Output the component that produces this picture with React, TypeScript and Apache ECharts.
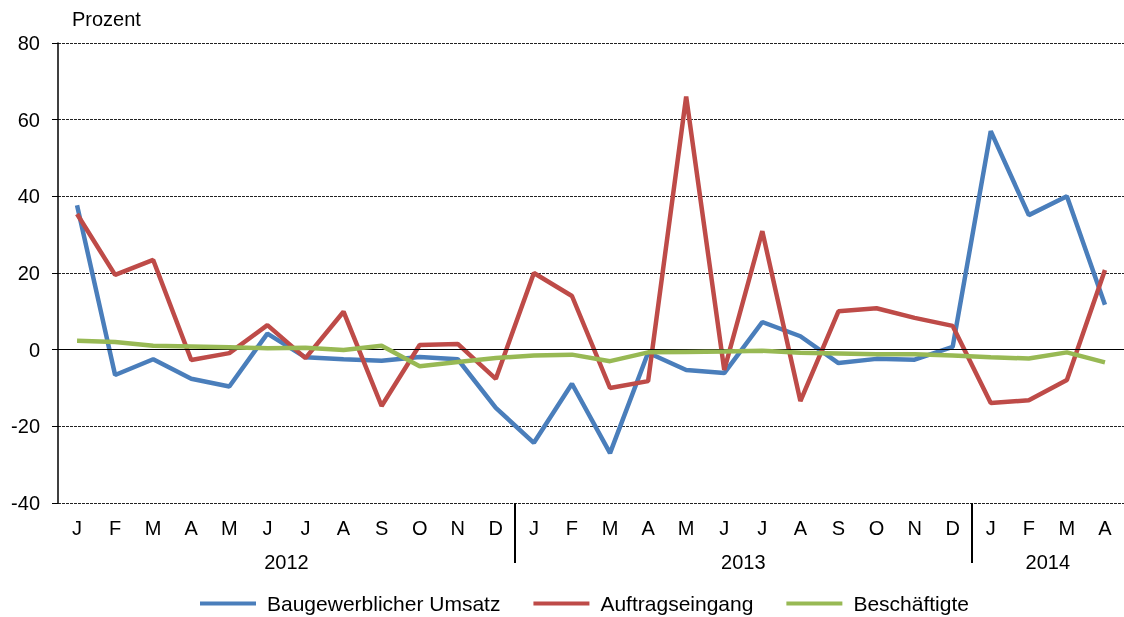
import React, { useEffect, useRef } from "react";
import * as echarts from "echarts";

const months = ["J","F","M","A","M","J","J","A","S","O","N","D","J","F","M","A","M","J","J","A","S","O","N","D","J","F","M","A"];
const years = [
  { label: "2012", from: 0, to: 11 },
  { label: "2013", from: 12, to: 23 },
  { label: "2014", from: 24, to: 27 },
];
const umsatz = [37.7, -6.6, -2.5, -7.6, -9.6, 4.2, -2.0, -2.5, -2.9, -1.9, -2.5, -15.2, -24.3, -8.9, -27.0, -0.8, -5.3, -6.1, 7.2, 3.5, -3.5, -2.4, -2.6, 0.7, 57.0, 35.1, 40.0, 11.7];
const auftrag = [35.4, 19.5, 23.4, -2.7, -0.9, 6.4, -2.2, 9.9, -14.7, 1.2, 1.5, -7.6, 20.0, 14.0, -10.0, -8.2, 66.0, -5.3, 30.9, -13.4, 10.0, 10.8, 8.3, 6.2, -13.9, -13.2, -7.9, 20.8];
const beschaeftigte = [2.3, 2.0, 1.0, 0.8, 0.6, 0.4, 0.5, -0.1, 1.0, -4.3, -3.2, -2.2, -1.5, -1.3, -3.0, -0.7, -0.6, -0.5, -0.3, -0.8, -1.0, -1.2, -1.2, -1.5, -2.0, -2.3, -0.7, -3.3];
const yTicks = { min: -40, max: 80, interval: 20 };
const seriesNames = ["Baugewerblicher Umsatz", "Auftragseingang", "Beschäftigte"];
const colors = ["#4a7ebb", "#be4b48", "#98b954"];

const FONT = "'Liberation Sans', Arial, sans-serif";
const FS = 20;

export default function App() {
  const ref = useRef<HTMLDivElement>(null);
  useEffect(() => {
    if (!ref.current) return;
    const chart = echarts.init(ref.current, null, { renderer: "svg" });
    const data = [umsatz, auftrag, beschaeftigte];
    const option: any = {
      animation: false,
      textStyle: { fontFamily: FONT },
      grid: { left: 58, top: 43, width: 1068, height: 460, containLabel: false },
      legend: {
        top: 593,
        left: 200,
        padding: 0,
        icon: "rect",
        itemWidth: 56,
        itemHeight: 4,
        itemGap: 33,
        textStyle: { fontFamily: FONT, fontSize: 21, color: "#000", padding: [0, 0, 0, 6] },
        data: seriesNames,
      },
      xAxis: {
        type: "category",
        data: months,
        boundaryGap: true,
        axisLine: { show: false, onZero: false },
        axisTick: { show: false },
        axisLabel: { interval: 0, margin: 15, fontSize: FS, color: "#000", fontFamily: FONT },
        splitLine: { show: false },
      },
      yAxis: {
        type: "value",
        min: yTicks.min,
        max: yTicks.max,
        interval: yTicks.interval,
        axisLine: { show: true, lineStyle: { color: "#000", width: 1.5 } },
        axisTick: { show: true, length: 6, lineStyle: { color: "#000" } },
        axisLabel: { margin: 18, fontSize: FS, color: "#000", fontFamily: FONT },
        splitLine: { show: true, lineStyle: { color: "#222", type: [3, 1], width: 1 } },
      },
      series: seriesNames.map((name, k) => ({
        name,
        type: "line",
        data: data[k],
        symbol: "none",
        lineStyle: { color: colors[k], width: 4.5 },
        itemStyle: { color: colors[k] },
        z: 3 + k,
        markLine:
          k === 0
            ? {
                silent: true,
                symbol: "none",
                label: { show: false },
                lineStyle: { color: "#000", type: "solid", width: 1 },
                data: [{ yAxis: 0 }],
              }
            : undefined,
      })),
    };
    chart.setOption(option);
    const px = (i: number) => chart.convertToPixel({ xAxisIndex: 0 }, i) as number;
    const bottomY = chart.convertToPixel({ yAxisIndex: 0 }, yTicks.min) as number;
    const graphics: any[] = years.map((y) => ({
      type: "text",
      x: (px(y.from) + px(y.to)) / 2,
      y: 562,
      style: { text: y.label, fontSize: FS, fontFamily: FONT, fill: "#000", align: "center", verticalAlign: "middle" },
    }));
    years.slice(1).forEach((y) => {
      const x = Math.round((px(y.from - 1) + px(y.from)) / 2);
      graphics.push({
        type: "line",
        shape: { x1: x, y1: bottomY, x2: x, y2: bottomY + 60 },
        style: { stroke: "#000", lineWidth: 2 },
      });
    });
    graphics.push({
      type: "text",
      x: 72,
      y: 19,
      style: { text: "Prozent", fontSize: FS, fontFamily: FONT, fill: "#000", align: "left", verticalAlign: "middle" },
    });
    chart.setOption({ graphic: graphics });
    return () => chart.dispose();
  }, []);
  return <div ref={ref} style={{ position: "fixed", left: 0, top: 0, width: 1124, height: 617 }} />;
}
